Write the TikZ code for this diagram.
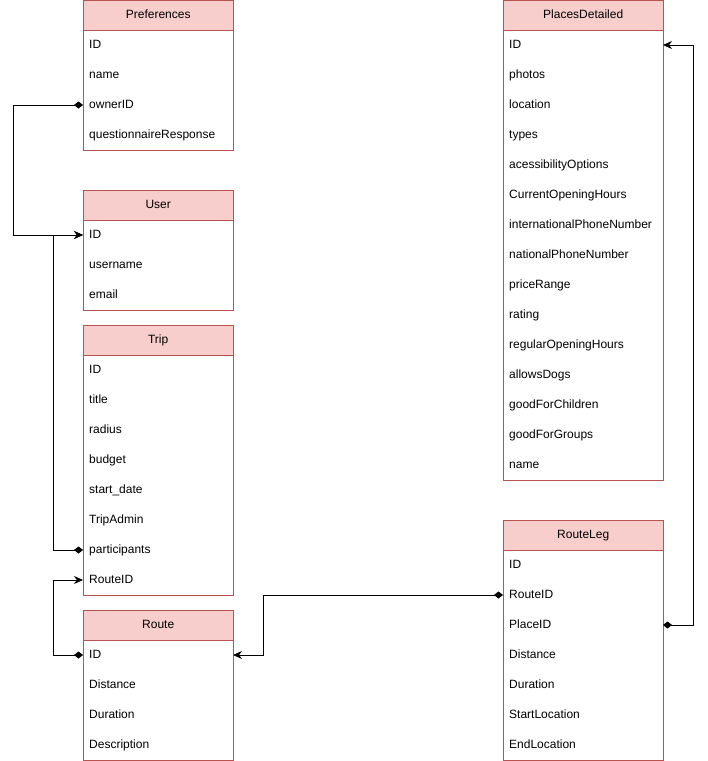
\documentclass[tikz,border=0pt]{standalone}
\usepackage{fontspec}
\setmainfont{Liberation Sans}
\usetikzlibrary{arrows.meta}
\definecolor{hdrfill}{HTML}{F8CECC}
\definecolor{hdrline}{HTML}{B85450}
\tikzset{
    tblhead/.style={rectangle, draw=hdrline, fill=hdrfill, minimum height=30pt, inner sep=0pt, text height=9pt, text depth=3pt, font=\fontsize{12}{14}\selectfont},
    tblrow/.style={rectangle, inner xsep=6pt, inner ysep=0pt, anchor=west, text height=9pt, text depth=3pt, font=\fontsize{12}{14}\selectfont},
    tblbox/.style={draw=hdrline},
    link/.style={draw, thick, {Diamond[length=9pt,width=7pt]}-{Stealth[length=9pt,width=8pt]}}
}
% #1 name, #2 x, #3 y, #4 width, #5 title, #6 rows, #7 number of rows
\newcommand\dbtable[7]{%
    \draw[tblbox, fill=white] (#2,#3) rectangle ++(#4,{30*(#7+1)});
    \node[tblhead, minimum width=#4pt, anchor=north west] (#1) at (#2,#3) {#5};
    \foreach \f [count=\i] in {#6} {
        \node[tblrow] (#1-\i) at (#2,{#3+30*\i+15}) {\f};
        \coordinate (#1-\i-e) at ({#2+#4},{#3+30*\i+15});
    }
}
\begin{document}
\begin{tikzpicture}[x=1pt, y=-1pt]
\useasboundingbox (0,0) rectangle (708,761);

% Tables
\dbtable{pref}{83}{0}{150}{Preferences}{ID,name,ownerID,questionnaireResponse}{4}
\dbtable{user}{83}{190}{150}{User}{ID,username,email}{3}
\dbtable{trip}{83}{325}{150}{Trip}{ID,title,radius,budget,start\_date,TripAdmin,participants,RouteID}{8}
\dbtable{route}{83}{610}{150}{Route}{ID,Distance,Duration,Description}{4}
\dbtable{places}{503}{0}{160}{PlacesDetailed}{ID,photos,location,types,acessibilityOptions,CurrentOpeningHours,internationalPhoneNumber,nationalPhoneNumber,priceRange,rating,regularOpeningHours,allowsDogs,goodForChildren,goodForGroups,name}{15}
\dbtable{leg}{503}{520}{160}{RouteLeg}{ID,RouteID,PlaceID,Distance,Duration,StartLocation,EndLocation}{7}

% Relations
\draw[link] (pref-3.west) -| (13,235) -- (user-1.west);
\draw[link] (trip-7.west) -| (53,235) -- (user-1.west);
\draw[link] (route-1.west) -| (53,580) -- (trip-8.west);
\draw[link] (leg-2.west) -| (263,655) -- (route-1-e);
\draw[link] (leg-3-e) -| (693,45) -- (places-1-e);

\end{tikzpicture}
\end{document}
